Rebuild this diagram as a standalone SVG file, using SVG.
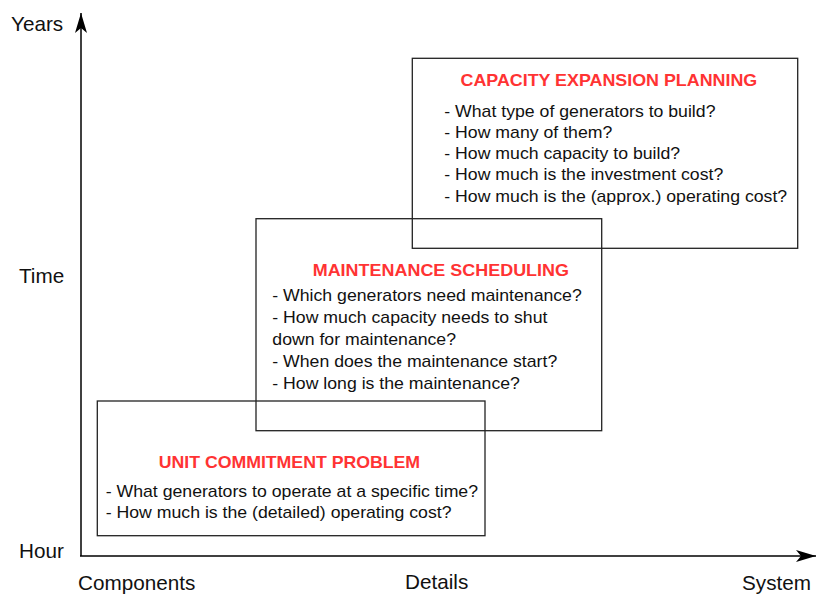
<svg xmlns="http://www.w3.org/2000/svg" width="817" height="594" viewBox="0 0 817 594">
  <style>
    .axis { stroke: #000; stroke-width: 1.5; fill: none; }
    .box { fill: none; stroke: #222; stroke-width: 1.3; }
    .lbl { font-family: "Liberation Sans", Arial, sans-serif; font-size: 20.7px; fill: #111; }
    .title { font-family: "Liberation Sans", Arial, sans-serif; font-size: 16.4px; font-weight: bold; fill: #ff3333; }
    .body { font-family: "Liberation Sans", Arial, sans-serif; font-size: 16.4px; fill: #111; }
  </style>
  <defs>
    <marker id="head" viewBox="-21 -7 22 14" refX="0" refY="0" markerWidth="22" markerHeight="14" markerUnits="userSpaceOnUse" orient="auto">
      <path d="M0,0 L-20,-6 L-15,0 L-20,6 Z" fill="#000"/>
    </marker>
  </defs>

  <!-- axes -->
  <g id="connectors">
    <line class="axis" x1="81" y1="556" x2="81" y2="13" marker-end="url(#head)"/>
    <line class="axis" x1="80" y1="556" x2="816" y2="556" marker-end="url(#head)"/>
  </g>

  <!-- axis labels -->
  <g id="axis-labels">
    <text class="lbl" x="11" y="31">Years</text>
    <text class="lbl" x="19" y="283">Time</text>
    <text class="lbl" x="19" y="558">Hour</text>
    <text class="lbl" x="78" y="590">Components</text>
    <text class="lbl" x="405" y="589">Details</text>
    <text class="lbl" x="742" y="590">System</text>
  </g>

  <!-- capacity expansion planning -->
  <g id="capacity-expansion">
    <rect class="box" x="412.3" y="58.3" width="385.4" height="190"/>
    <text class="title" transform="translate(460.5,86) scale(1.09,1)">CAPACITY EXPANSION PLANNING</text>
    <text class="body" transform="translate(444.3,116.7) scale(1.078,1)">- What type of generators to build?</text>
    <text class="body" transform="translate(444.3,137.9) scale(1.078,1)">- How many of them?</text>
    <text class="body" transform="translate(444.3,159.2) scale(1.078,1)">- How much capacity to build?</text>
    <text class="body" transform="translate(444.3,180.4) scale(1.078,1)">- How much is the investment cost?</text>
    <text class="body" transform="translate(444.3,201.7) scale(1.078,1)">- How much is the (approx.) operating cost?</text>
  </g>

  <!-- maintenance scheduling -->
  <g id="maintenance-scheduling">
    <rect class="box" x="256" y="218.7" width="345.7" height="212"/>
    <text class="title" transform="translate(312.7,275.7) scale(1.095,1)">MAINTENANCE SCHEDULING</text>
    <text class="body" transform="translate(272.3,300.7) scale(1.078,1)">- Which generators need maintenance?</text>
    <text class="body" transform="translate(272.3,322.7) scale(1.078,1)">- How much capacity needs to shut</text>
    <text class="body" transform="translate(272.3,344.7) scale(1.078,1)">down for maintenance?</text>
    <text class="body" transform="translate(272.3,366.7) scale(1.078,1)">- When does the maintenance start?</text>
    <text class="body" transform="translate(272.3,388.7) scale(1.078,1)">- How long is the maintenance?</text>
  </g>

  <!-- unit commitment problem -->
  <g id="unit-commitment">
    <rect class="box" x="97.3" y="401" width="387.7" height="134.7"/>
    <text class="title" transform="translate(158.7,467.7) scale(1.08,1)">UNIT COMMITMENT PROBLEM</text>
    <text class="body" transform="translate(105.7,496.7) scale(1.078,1)">- What generators to operate at a specific time?</text>
    <text class="body" transform="translate(105.7,517.7) scale(1.078,1)">- How much is the (detailed) operating cost?</text>
  </g>
</svg>
